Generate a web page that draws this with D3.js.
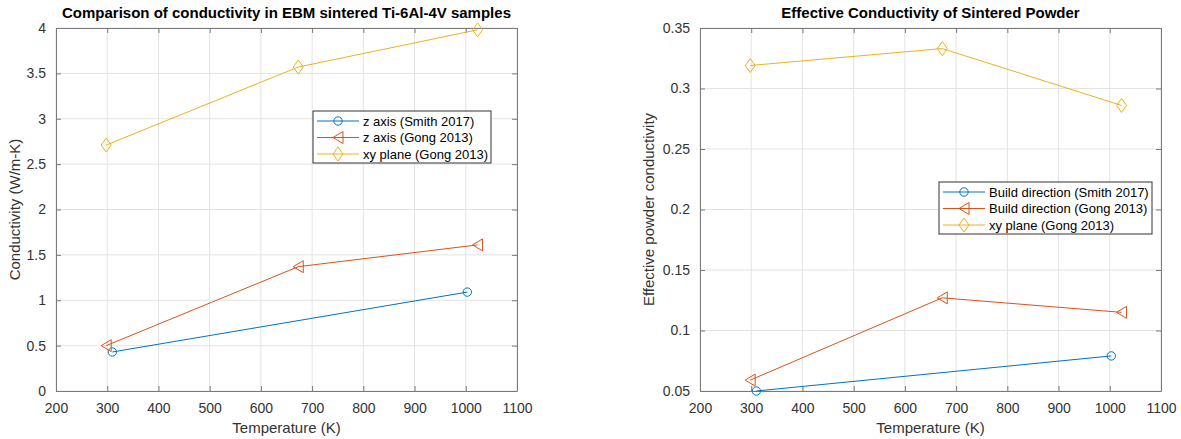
<!DOCTYPE html>
<html>
<head>
<meta charset="utf-8">
<script src="https://cdn.jsdelivr.net/npm/d3@7"></script>
<style>
  body { margin: 0; background: #fff; }
  svg { font-family: "Liberation Sans", Arial, sans-serif; }
</style>
</head>
<body>
<svg id="chart" width="1181" height="439"></svg>
<script>
// temperatures (K) used by each series
const tempSmith = [310, 1003];
const tempGong = [298, 673, 1023];

// left plot: conductivity (W/m-K)
const condSmithZ = [0.43, 1.09];
const condGongZ = [0.50, 1.37, 1.61];
const condGongXY = [2.71, 3.57, 3.98];

// right plot: effective powder conductivity
const effSmithBuild = [0.050, 0.079];
const effGongBuild = [0.059, 0.127, 0.115];
const effGongXY = [0.319, 0.333, 0.286];

const xTicks = [200, 300, 400, 500, 600, 700, 800, 900, 1000, 1100];
const yTicksLeft = [0, 0.5, 1, 1.5, 2, 2.5, 3, 3.5, 4];
const yTicksRight = [0.05, 0.1, 0.15, 0.2, 0.25, 0.3, 0.35];

const leftLabels = ["z axis (Smith 2017)", "z axis (Gong 2013)", "xy plane (Gong 2013)"];
const rightLabels = ["Build direction (Smith 2017)", "Build direction (Gong 2013)", "xy plane (Gong 2013)"];

const colors = ["#0072BD", "#D95319", "#EDB120"];
const markers = ["circle", "triangle", "diamond"];

const svg = d3.select("#chart");

function markerPath(type) {
    if (type === "circle") return d3.symbol(d3.symbolCircle, 55)();
    if (type === "triangle") return "M-5,0L5,-6L5,6Z";
    return "M0,-7L5,0L0,7L-5,0Z";
}

function drawPanel(opt) {
    const x = d3.scaleLinear().domain([200, 1100]).range([opt.left, opt.right]);
    const y = d3.scaleLinear().domain(opt.yDomain).range([391, 28]);
    const g = svg.append("g");

    // grid
    g.selectAll("line.vgrid").data(xTicks).enter().append("line")
        .attr("x1", d => x(d)).attr("x2", d => x(d))
        .attr("y1", y.range()[0]).attr("y2", y.range()[1])
        .attr("stroke", "#e3e3e3");
    g.selectAll("line.hgrid").data(opt.yTicks).enter().append("line")
        .attr("x1", opt.left).attr("x2", opt.right)
        .attr("y1", d => y(d)).attr("y2", d => y(d))
        .attr("stroke", "#e3e3e3");

    // axes
    const fmt = d => String(d);
    const xAxis = d3.axisBottom(x).tickValues(xTicks).tickFormat(fmt).tickSizeInner(-5).tickSizeOuter(0).tickPadding(12);
    const yAxis = d3.axisLeft(y).tickValues(opt.yTicks).tickFormat(fmt).tickSizeInner(-5).tickSizeOuter(0).tickPadding(10);
    const xTop = d3.axisTop(x).tickValues(xTicks).tickSizeInner(-5).tickSizeOuter(0).tickFormat("");
    const yRight = d3.axisRight(y).tickValues(opt.yTicks).tickSizeInner(-5).tickSizeOuter(0).tickFormat("");

    [
        [xAxis, `translate(0,391)`],
        [yAxis, `translate(${opt.left},0)`],
        [xTop, `translate(0,28)`],
        [yRight, `translate(${opt.right},0)`]
    ].forEach(([ax, tr]) => {
        const a = g.append("g").attr("transform", tr).call(ax);
        a.selectAll("path, line").attr("stroke", "#7a7a7a");
        a.selectAll("text").attr("fill", "#333").style("font-size", "14px");
    });

    // series
    const line = d3.line().x(d => x(d[0])).y(d => y(d[1]));
    opt.series.forEach((s, i) => {
        const pts = s.t.map((t, j) => [t, s.v[j]]);
        g.append("path").datum(pts).attr("d", line)
            .attr("fill", "none").attr("stroke", colors[i]).attr("stroke-width", 1);
        g.selectAll(null).data(pts).enter().append("path")
            .attr("d", markerPath(markers[i]))
            .attr("transform", d => `translate(${x(d[0])},${y(d[1])})`)
            .attr("fill", "none").attr("stroke", colors[i]).attr("stroke-width", 1);
    });

    // title
    svg.append("text").attr("x", (opt.left + opt.right) / 2).attr("y", 18)
        .attr("text-anchor", "middle").style("font-size", "15px").style("font-weight", "bold")
        .attr("fill", "#000").text(opt.title);
    // x label
    svg.append("text").attr("x", (opt.left + opt.right) / 2).attr("y", 433)
        .attr("text-anchor", "middle").style("font-size", "15px").attr("fill", "#333")
        .text("Temperature (K)");
    // y label
    svg.append("text").attr("transform", `translate(${opt.yLabelX},${(28 + 391) / 2}) rotate(-90)`)
        .attr("text-anchor", "middle").style("font-size", "15px").attr("fill", "#333")
        .text(opt.yLabel);

    // legend
    const lg = svg.append("g");
    lg.append("rect").attr("x", opt.legend.x).attr("y", opt.legend.y)
        .attr("width", opt.legend.w).attr("height", 52)
        .attr("fill", "#fff").attr("stroke", "#333").attr("stroke-width", 1);
    opt.labels.forEach((lab, i) => {
        const ly = opt.legend.y + 10 + i * 16.5;
        const lx = opt.legend.x + 4;
        lg.append("line").attr("x1", lx).attr("x2", lx + 42).attr("y1", ly).attr("y2", ly)
            .attr("stroke", colors[i]).attr("stroke-width", 1);
        lg.append("path").attr("d", markerPath(markers[i]))
            .attr("transform", `translate(${lx + 21},${ly})`)
            .attr("fill", "none").attr("stroke", colors[i]);
        lg.append("text").attr("x", lx + 46).attr("y", ly).attr("dy", "0.35em")
            .style("font-size", "13px").attr("fill", "#000").text(lab);
    });
}

drawPanel({
    left: 56, right: 517,
    yDomain: [0, 4], yTicks: yTicksLeft,
    title: "Comparison of conductivity in EBM sintered Ti-6Al-4V samples",
    yLabel: "Conductivity (W/m-K)", yLabelX: 20,
    series: [
        { t: tempSmith, v: condSmithZ },
        { t: tempGong, v: condGongZ },
        { t: tempGong, v: condGongXY }
    ],
    labels: leftLabels,
    legend: { x: 313, y: 111, w: 178 }
});

drawPanel({
    left: 700, right: 1161,
    yDomain: [0.05, 0.35], yTicks: yTicksRight,
    title: "Effective Conductivity of Sintered Powder",
    yLabel: "Effective powder conductivity", yLabelX: 654,
    series: [
        { t: tempSmith, v: effSmithBuild },
        { t: tempGong, v: effGongBuild },
        { t: tempGong, v: effGongXY }
    ],
    labels: rightLabels,
    legend: { x: 939, y: 182, w: 213 }
});
</script>
</body>
</html>
